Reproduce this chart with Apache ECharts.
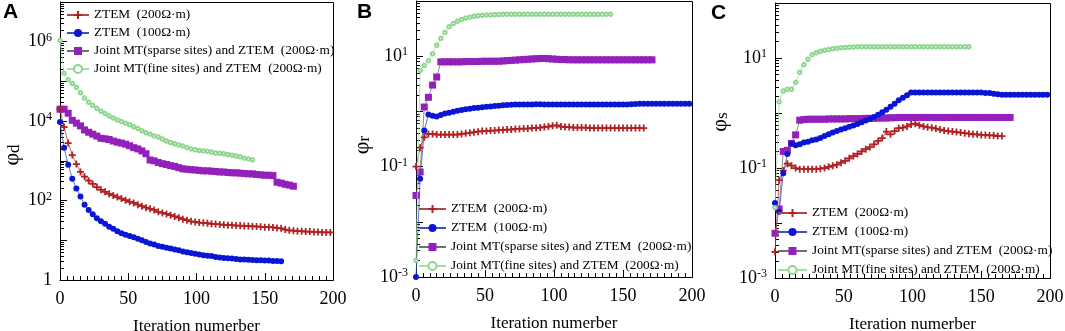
<!DOCTYPE html>
<html><head><meta charset="utf-8">
<script src="https://cdn.jsdelivr.net/npm/echarts@6/dist/echarts.min.js"></script>
<style>html,body{margin:0;padding:0;background:#fff}#wrap{width:1065px;height:331px;overflow:hidden}.c{width:355px;height:331px;float:left}</style>
</head><body><div id="wrap"><div id="c0" class="c"></div><div id="c1" class="c"></div><div id="c2" class="c"></div></div>
<script>
// Iteration numbers of plotted points
const iters = [0,3,6,9,12,15,18,21,24,27,30,33,36,39,42,45,48,51,54,57,60,63,66,69,72,75,78,81,84,87,90,93,96,99,102,105,108,111,114,117,120,123,126,129,132,135,138,141,144,147,150,153,156,159,162,165,168,171,174,177,180,183,186,189,192,195,198];

const seriesNames = ['ZTEM  (200\u03a9\u00b7m)','ZTEM  (100\u03a9\u00b7m)','Joint MT(sparse sites) and ZTEM  (200\u03a9\u00b7m)','Joint MT(fine sites) and ZTEM  (200\u03a9\u00b7m)'];
const panelLetters = ['A','B','C'];
const yNames = [['\u03c6','d'],['\u03c6','r'],['\u03c6','s']];
const xName = 'Iteration numerber';

// Panel A : phi_d
const aZtem200 = [20000,7100,2800,1400,830,525,400,316,263,219,186,166,148,135,123,112,102,93,87,79,72,66,62,58,52,49,46,43,40,37,34,32,30,29,28,27.5,27,26,25.7,25,24.5,24,24,23.4,23.4,23,23,22.4,22.4,21.9,21.4,21.4,21,20.4,20,18.6,17.8,17.4,17,17,16.6,16.6,16.2,16.2,15.8,15.8,15.8];
const aZtem100 = [9500,2140,800,355,200,126,79,58,45,36,30,26,22,19.5,17,15,13.8,12.9,12,11,10,9.1,8.3,7.8,7.2,6.9,6.5,6.2,5.9,5.6,5.2,5.0,4.8,4.6,4.4,4.2,4.1,4.0,3.8,3.7,3.6,3.55,3.5,3.4,3.3,3.3,3.25,3.2,3.15,3.15,3.1,3.1,3.0,3.0,2.95];
const aJointSparse = [20000,20000,15800,10500,8900,7600,6000,5250,4700,4200,3700,3600,3450,3150,2950,2800,2630,2400,2150,2000,1780,1510,1050,1000,910,850,810,760,725,675,630,615,600,590,575,560,560,550,540,525,525,510,500,500,490,480,470,470,455,445,435,435,425,290,275,257,245,230];
const aJointFine = [1.07e6,1.6e5,1.1e5,8.9e4,7.1e4,5.2e4,3.8e4,3.0e4,2.5e4,2.1e4,1.78e4,1.55e4,1.35e4,1.2e4,1.07e4,9800,8900,8100,7200,6500,5750,5100,4700,4250,4000,3550,3150,2900,2700,2500,2350,2150,2000,1900,1820,1780,1740,1660,1580,1550,1510,1450,1380,1320,1260,1170,1120,1070];

// Panel B : phi_r
const bZtem200 = [0.1,0.22,0.34,0.39,0.39,0.38,0.38,0.38,0.38,0.38,0.38,0.39,0.40,0.41,0.42,0.43,0.44,0.44,0.45,0.45,0.46,0.46,0.47,0.47,0.48,0.48,0.49,0.49,0.50,0.50,0.51,0.52,0.53,0.55,0.56,0.53,0.52,0.52,0.51,0.51,0.51,0.51,0.50,0.50,0.50,0.50,0.50,0.50,0.50,0.50,0.50,0.50,0.50,0.50,0.50,0.50];
const bZtem100 = [0.001,0.06,0.45,0.88,0.83,0.81,0.86,0.92,0.95,0.99,1.03,1.06,1.09,1.12,1.15,1.17,1.19,1.21,1.23,1.25,1.27,1.29,1.31,1.32,1.33,1.33,1.34,1.34,1.34,1.35,1.35,1.34,1.33,1.33,1.33,1.33,1.33,1.33,1.33,1.33,1.33,1.33,1.33,1.33,1.33,1.33,1.33,1.33,1.33,1.33,1.33,1.34,1.35,1.36,1.38,1.38,1.38,1.38,1.38,1.38,1.38,1.38,1.38,1.38,1.38,1.38,1.38];
const bJointSparse = [0.03,0.08,1.2,1.8,3.0,4.2,7.9,7.9,7.9,7.9,7.9,7.9,8.0,8.0,8.0,8.0,8.1,8.1,8.1,8.1,8.1,8.2,8.3,8.4,8.5,8.6,8.7,8.8,8.9,9.0,9.1,9.1,9.0,8.9,8.8,8.7,8.7,8.6,8.6,8.6,8.6,8.6,8.6,8.6,8.6,8.6,8.6,8.6,8.6,8.6,8.6,8.6,8.6,8.6,8.6,8.6,8.6,8.6];
const bJointFine = [0.002,5.5,6.8,8.3,11,15.8,21,27,34,39,43,46,49,51,53,54,55,55.5,56,56.5,57,57.5,57.5,57.5,57.5,57.5,57.5,57.5,57.5,57.5,57.5,57.5,57.5,57.5,57.5,57.5,57.5,57.5,57.5,57.5,57.5,57.5,57.5,57.5,57.5,57.5,57.5,57.5];

// Panel C : phi_s
const cZtem200 = [0.003,0.06,0.09,0.12,0.11,0.10,0.095,0.095,0.095,0.095,0.095,0.097,0.10,0.105,0.11,0.115,0.125,0.135,0.15,0.165,0.18,0.20,0.22,0.24,0.27,0.31,0.35,0.46,0.41,0.47,0.53,0.54,0.57,0.62,0.64,0.60,0.57,0.55,0.54,0.52,0.50,0.48,0.47,0.46,0.45,0.44,0.43,0.42,0.41,0.41,0.40,0.40,0.39,0.39,0.38,0.38];
const cZtem100 = [0.023,0.016,0.08,0.18,0.28,0.26,0.27,0.29,0.30,0.32,0.33,0.35,0.38,0.41,0.44,0.47,0.50,0.53,0.56,0.59,0.63,0.68,0.73,0.78,0.85,0.93,1.03,1.15,1.3,1.48,1.7,1.9,2.1,2.35,2.35,2.35,2.35,2.35,2.35,2.35,2.35,2.35,2.35,2.35,2.35,2.35,2.35,2.35,2.35,2.35,2.35,2.3,2.3,2.25,2.2,2.15,2.15,2.15,2.15,2.15,2.15,2.15,2.15,2.15,2.15,2.15,2.15];
const cJointSparse = [0.0065,0.018,0.2,0.21,0.28,0.4,0.74,0.76,0.77,0.77,0.77,0.77,0.77,0.78,0.78,0.78,0.78,0.78,0.79,0.79,0.79,0.79,0.80,0.80,0.80,0.81,0.81,0.81,0.82,0.82,0.83,0.83,0.83,0.83,0.83,0.83,0.83,0.83,0.83,0.83,0.83,0.83,0.83,0.83,0.83,0.83,0.83,0.83,0.83,0.83,0.83,0.83,0.83,0.83,0.83,0.83,0.83,0.83];
const cJointFine = [0.019,1.6,2.5,2.7,2.7,3.6,5.5,7.5,9.5,11.5,12.5,13.2,13.8,14.3,14.7,15.0,15.3,15.5,15.7,15.8,16,16,16,16,16,16,16,16,16,16,16,16,16,16,16,16,16,16,16,16,16,16,16,16,16,16,16,16];

const panelData = [
  [aZtem200, aZtem100, aJointSparse, aJointFine],
  [bZtem200, bZtem100, bJointSparse, bJointFine],
  [cZtem200, cZtem100, cJointSparse, cJointFine]
];
const yRanges = [[1,1e7],[1e-3,1e2],[1e-3,1e2]];

const SERIF = 'Liberation Serif';
const plusPath = 'path://M3,0h2v3h3v2h-3v3h-2v-3h-3v-2h3z';
const styles = [
  {symbol: plusPath, size: 7, color:'#b02020', line:'#b04848'},
  {symbol:'circle', size:6, color:'#0a16d2', line:'#4050c0'},
  {symbol:'rect', size:7, color:'#9420bc', line:'#707070'},
  {symbol:'emptyCircle', size:3.5, color:'#8ed68e', line:'#a8dea8'}
];
// layout of each panel inside its own 355px-wide chart
const grids = [
  {left:60, top:2, width:273, height:278},
  {left:61, top:1, width:276, height:276},
  {left:65, top:3, width:275, height:275}
];
const legends = [
  {left:66, top:8, itemWidth:22, itemGap:4},
  {left:63, top:202, itemWidth:27, itemGap:5},
  {left:67, top:206, itemWidth:29, itemGap:5}
];
const yNamePos = [[12,155],[7,145],[10,122]];
const letterPos = [[3,2],[2,2],[1,3]];

function yFmt(p){
  return function(v){
    const e = Math.round(Math.log10(v));
    if (p === 0) {
      if (e % 2 !== 0) return '';
      if (e === 0) return '{n|1}';
      return '{n|10}{s|' + e + '}';
    }
    if (((e + 3) % 2) !== 0) return '';
    return '{n|10}{s|' + e + '}';
  };
}

function makeOption(p){
  const g = grids[p], l = legends[p];
  const opt = {
    animation: false,
    backgroundColor: '#fff',
    grid: [Object.assign({show:false, containLabel:false, outerBoundsMode:'none'}, g)],
    xAxis: [{
      type:'value', gridIndex:0, min:0, max:200, interval:50,
      axisLine:{show:true, onZero:false, lineStyle:{color:'#000', width:1}},
      axisTick:{show:true, inside:true, length:7, lineStyle:{color:'#000', width:1}},
      minorTick:{show:true, splitNumber:10, length:4, lineStyle:{color:'#000', width:1}},
      splitLine:{show:false},
      axisLabel:{color:'#000', fontFamily:SERIF, fontSize:18, margin:10},
      name:xName, nameLocation:'middle', nameGap:38,
      nameTextStyle:{color:'#000', fontFamily:SERIF, fontSize:17}
    }],
    yAxis: [{
      type:'log', logBase:10, gridIndex:0, min:yRanges[p][0], max:yRanges[p][1],
      axisLine:{show:true, onZero:false, lineStyle:{color:'#000', width:1}},
      axisTick:{show:true, inside:true, length:7, lineStyle:{color:'#000', width:1}},
      minorTick:{show:true, splitNumber:9, length:4, lineStyle:{color:'#000', width:1}},
      splitLine:{show:false},
      axisLabel:{color:'#000', margin:8, formatter:yFmt(p),
        rich:{n:{fontFamily:SERIF, fontSize:18, lineHeight:20, color:'#000'},
              s:{fontFamily:SERIF, fontSize:12, lineHeight:12, verticalAlign:'top', color:'#000'}}}
    }],
    legend: [{
      orient:'vertical', left:l.left, top:l.top, padding:0,
      itemWidth:l.itemWidth, itemHeight:10, itemGap:l.itemGap,
      textStyle:{fontFamily:SERIF, fontSize:13.3, color:'#000', lineHeight:14},
      data: seriesNames
    }],
    series: panelData[p].map((vals, k) => ({
      type:'line', name:seriesNames[k], xAxisIndex:0, yAxisIndex:0,
      data: vals.map((v, i) => [iters[i], v]),
      symbol: styles[k].symbol, symbolSize: styles[k].size, showSymbol:true,
      itemStyle:{color: styles[k].color, borderColor: styles[k].color, borderWidth: k===3 ? 0.8 : 0},
      lineStyle:{color: styles[k].line, width: 0.8},
      emphasis:{disabled:true},
      z: k===2 ? 2 : 3
    })),
    graphic: [
      {type:'rect', silent:true,
       shape:{x:g.left + 0.5, y:g.top + 0.5, width:g.width, height:g.height},
       style:{fill:null, stroke:'#000', lineWidth:1}},
      {type:'text', left:letterPos[p][0], top:letterPos[p][1],
       style:{text:panelLetters[p], font:'bold 21px "Liberation Sans"', fill:'#000'}},
      {type:'text', x:yNamePos[p][0], y:yNamePos[p][1], rotation:Math.PI/2,
       style:{text:'{a|' + yNames[p][0] + '}{b|' + yNames[p][1] + '}', align:'center', verticalAlign:'middle',
         rich:{a:{fontFamily:SERIF, fontSize:22, fill:'#000'}, b:{fontFamily:SERIF, fontSize:17, fill:'#000', padding:[6,0,0,0]}}}}
    ]
  };
  return opt;
}

[0,1,2].forEach(p => {
  echarts.init(document.getElementById('c' + p), null, {renderer:'canvas'}).setOption(makeOption(p));
});
</script></body></html>
